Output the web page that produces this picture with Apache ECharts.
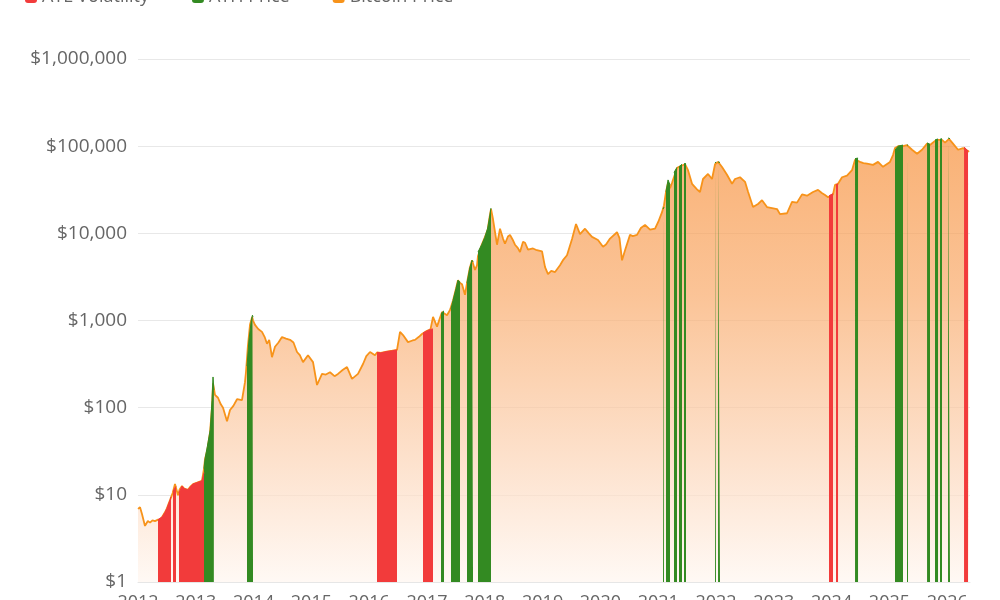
<!DOCTYPE html>
<html>
<head>
<meta charset="utf-8">
<script src="https://cdn.jsdelivr.net/npm/echarts@6/dist/echarts.min.js"></script>
<style>html,body{margin:0;padding:0;background:#fff;overflow:hidden}#c{width:1000px;height:600px}</style>
</head>
<body>
<div id="c"></div>
<script>
const legendNames = ['ATL Volatility', 'ATH Price', 'Bitcoin Price'];
const yTicks = [1, 10, 100, 1000, 10000, 100000, 1000000];
const priceDates = [
2012.000,2012.035,2012.070,2012.121,2012.170,2012.208,2012.250,2012.294,2012.346,2012.381,2012.420,2012.467,2012.500,2012.554,2012.600,2012.640,2012.692,2012.720,2012.761,2012.800,2012.865,2012.910,2012.952,
2013.021,2013.107,2013.142,2013.159,2013.200,2013.246,2013.280,2013.298,2013.332,2013.384,2013.430,2013.471,2013.540,2013.592,2013.650,2013.713,2013.799,2013.851,2013.869,2013.900,2013.938,2013.975,2013.990,
2014.024,2014.080,2014.145,2014.190,2014.232,2014.270,2014.318,2014.370,2014.430,2014.491,2014.560,2014.630,2014.690,2014.751,2014.800,2014.855,2014.941,
2015.028,2015.097,2015.183,2015.250,2015.322,2015.400,2015.460,2015.540,2015.616,2015.702,2015.806,2015.893,2015.950,
2016.014,2016.100,2016.135,2016.200,2016.300,2016.400,2016.481,2016.533,2016.585,2016.671,2016.750,2016.792,2016.860,2016.913,2016.931,
2017.000,2017.060,2017.104,2017.173,2017.220,2017.260,2017.294,2017.346,2017.398,2017.415,2017.450,2017.500,2017.536,2017.571,2017.606,2017.657,2017.692,2017.740,2017.779,2017.796,2017.830,2017.865,2017.882,2017.950,
2018.000,2018.050,2018.080,2018.107,2018.125,2018.142,2018.211,2018.263,2018.315,2018.349,2018.400,2018.436,2018.480,2018.522,2018.570,2018.609,2018.661,2018.696,2018.747,2018.834,2018.900,2018.990,
2019.042,2019.093,2019.150,2019.215,2019.301,2019.360,2019.422,2019.509,2019.578,2019.647,2019.734,2019.800,2019.855,2019.958,
2020.045,2020.100,2020.166,2020.287,2020.330,2020.374,2020.426,2020.512,2020.560,2020.633,2020.700,2020.772,2020.858,2020.945,
2021.000,2021.066,2021.100,2021.135,2021.170,2021.204,2021.239,2021.291,2021.325,2021.360,2021.412,2021.464,2021.516,2021.585,2021.671,2021.723,2021.775,2021.862,2021.931,2021.983,
2022.035,2022.069,2022.104,2022.190,2022.277,2022.329,2022.415,2022.502,2022.554,2022.640,2022.727,2022.796,2022.882,2022.969,
2023.055,2023.107,2023.228,2023.315,2023.401,2023.488,2023.574,2023.678,2023.765,2023.830,2023.886,2023.938,2023.955,
2024.024,2024.059,2024.111,2024.180,2024.266,2024.353,2024.405,2024.439,2024.491,2024.550,2024.612,2024.716,2024.803,2024.889,
2025.010,2025.062,2025.097,2025.150,2025.235,2025.304,2025.391,2025.478,2025.564,2025.651,2025.702,2025.789,2025.841,2025.875,2025.910,2025.962,
2026.031,2026.100,2026.187,2026.273,2026.360,2026.377
];
const priceValues = [
6.9,7.2,6.0,4.4,5.0,4.8,5.1,5.0,5.2,5.1,5.6,6.3,7.0,8.7,10.5,13.3,9.9,11.5,12.6,11.8,11.4,12.5,13.3,
13.8,14.5,20,25.7,33,52,100,190,140,130,110,100,70,94,105,125,122,196,260,500,900,1100,1000,
890,800,740,650,540,600,380,500,560,647,620,600,560,435,400,333,400,
333,182,244,240,255,230,244,270,292,214,244,317,390,
435,400,430,425,440,450,460,740,680,565,590,600,650,700,720,
760,790,1100,850,1050,1250,1200,1150,1320,1350,1700,2300,2900,2700,2600,1970,2700,4000,4900,4500,3800,4300,5500,7500,
9000,11000,15000,19000,16600,14500,7400,11300,8700,7600,9200,9600,8500,7400,6800,6100,8000,7800,6500,6700,6400,6200,
4100,3400,3700,3600,4300,5000,5600,8600,12800,9800,11300,10000,9100,8400,
7000,7500,8700,10300,8800,4900,6400,9600,9300,9600,11500,12500,11000,11300,
13500,17500,21000,30000,38000,33000,38000,48000,56000,58000,60000,62000,53000,37000,32000,29800,42000,48000,42000,62000,
66000,64000,57700,47000,37000,42000,44000,39000,30000,20000,21700,24000,20000,19500,
19000,16600,17000,23000,22500,28000,27000,29800,31500,29000,27500,26000,27000,
28000,36000,37000,44000,46000,53000,70000,72000,66000,64000,63000,61000,66000,58000,
66000,79000,95000,100000,100000,103000,91000,82000,91000,107000,103000,115000,118000,114000,118000,110000,
121000,107000,91000,95000,88000,86000
];
const lowVolSegments = [
 [[2012.346,5.2],[2012.420,5.6],[2012.467,6.3],[2012.500,7.0],[2012.554,8.7],[2012.571,9.5]],
 [[2012.606,11],[2012.657,12.5]],
 [[2012.709,10.5],[2012.761,12.6],[2012.800,11.8],[2012.865,11.4],[2012.910,12.5],[2012.952,13.3],[2013.021,13.8],[2013.107,14.5],[2013.142,18]],
 [[2016.135,430],[2016.200,425],[2016.300,440],[2016.400,450],[2016.481,460]],
 [[2016.931,720],[2017.000,760],[2017.060,790],[2017.104,800]],
 [[2023.955,27000],[2024.024,28500]],
 [[2024.076,36000],[2024.111,37000]],
 [[2026.291,98000],[2026.360,88000]]
];
const athSegments = [
 [[2013.142,20],[2013.160,26],[2013.200,36],[2013.250,56],[2013.280,120],[2013.298,225],[2013.312,160]],
 [[2013.886,300],[2013.920,600],[2013.960,1000],[2013.980,1150],[2013.990,1100]],
 [[2017.242,1200],[2017.294,1290]],
 [[2017.415,1350],[2017.450,1700],[2017.500,2300],[2017.536,2900],[2017.571,2750]],
 [[2017.692,2700],[2017.740,4000],[2017.779,4900],[2017.796,4700]],
 [[2017.882,6100],[2017.950,7500],[2018.000,9000],[2018.050,11500],[2018.080,15000],[2018.107,19500]],
 [[2021.083,19000],[2021.100,20000]],
 [[2021.135,30000],[2021.170,41000],[2021.204,36000]],
 [[2021.273,50000],[2021.325,57000]],
 [[2021.360,58000],[2021.412,62000]],
 [[2021.446,63000],[2021.481,63000]],
 [[2021.983,64000],[2022.000,66000]],
 [[2022.035,66000],[2022.069,65000]],
 [[2024.405,72000],[2024.457,73000]],
 [[2025.097,90000],[2025.150,100000],[2025.235,103000]],
 [[2025.304,103000],[2025.322,103000]],
 [[2025.651,109000],[2025.702,105000]],
 [[2025.789,118000],[2025.841,121000]],
 [[2025.875,120000],[2025.910,122000]],
 [[2026.014,124000],[2026.048,122000]]
];

function segData(segs) {
  const out = [];
  segs.forEach(function (s) {
    s.forEach(function (p) { out.push([p[0], p[1]]); });
    out.push([s[s.length - 1][0], '-']);
  });
  return out;
}
function fmtMoney(v) {
  const s = String(Math.round(v));
  return '$' + s.replace(/\B(?=(\d{3})+(?!\d))/g, ',');
}
const priceData = priceDates.map(function (d, i) { return [d, priceValues[i]]; });

const chart = echarts.init(document.getElementById('c'), null, { renderer: 'canvas', width: 1000, height: 600 });
const FONT = '"Open Sans", "Noto Sans", sans-serif';
const RED = '#f23b3b', GREEN = '#338a22', ORANGE = '#f7931a';
chart.setOption({
  animation: false,
  backgroundColor: '#fff',
  textStyle: { fontFamily: FONT },
  legend: {
    data: legendNames,
    left: 20, top: -17,
    icon: 'roundRect', itemWidth: 12, itemHeight: 12, itemGap: 43,
    textStyle: { fontSize: 18, color: '#666', fontFamily: FONT }
  },
  grid: { left: 138, right: 30, top: 59, bottom: 18, containLabel: false, outerBoundsMode: 'none' },
  xAxis: {
    type: 'value', min: 2012, max: 2026.394, interval: 1,
    axisLine: { show: true, lineStyle: { color: '#e6e6e6' } },
    axisTick: { show: false },
    splitLine: { show: false },
    axisLabel: {
      fontSize: 18, color: '#666', margin: 12, showMaxLabel: false,
      formatter: function (v) { return Math.abs(v - Math.round(v)) < 1e-6 ? String(Math.round(v)) : ''; }
    }
  },
  yAxis: {
    type: 'log', logBase: 10, min: yTicks[0], max: yTicks[yTicks.length - 1],
    axisLine: { show: false }, axisTick: { show: false },
    splitLine: { lineStyle: { color: '#e8e8e8' } },
    axisLabel: { fontSize: 19, color: '#666', margin: 11, formatter: fmtMoney }
  },
  series: [
    {
      name: legendNames[2], type: 'line', data: priceData, showSymbol: false, z: 2,
      itemStyle: { color: ORANGE },
      lineStyle: { color: ORANGE, width: 1.8 },
      areaStyle: {
        origin: 'start',
        color: new echarts.graphic.LinearGradient(0, 0, 0, 1, [
          { offset: 0, color: '#f7903a' },
          { offset: 0.35, color: '#f9aa6a' },
          { offset: 0.7, color: '#fcd2b2' },
          { offset: 1, color: '#fff6f0' }
        ])
      }
    },
    {
      name: legendNames[0], type: 'line', data: segData(lowVolSegments), showSymbol: false, z: 3,
      connectNulls: false,
      itemStyle: { color: RED },
      lineStyle: { color: RED, width: 1 },
      areaStyle: { origin: 'start', color: RED, opacity: 1 }
    },
    {
      name: legendNames[1], type: 'line', data: segData(athSegments), showSymbol: false, z: 3,
      connectNulls: false,
      itemStyle: { color: GREEN },
      lineStyle: { color: GREEN, width: 1 },
      areaStyle: { origin: 'start', color: GREEN, opacity: 1 }
    }
  ]
});
</script>
</body>
</html>
